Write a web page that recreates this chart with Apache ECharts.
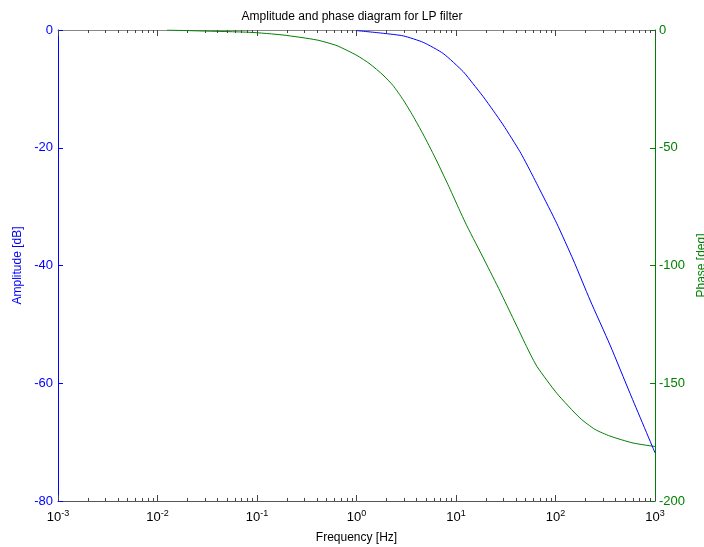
<!DOCTYPE html>
<html>
<head>
<meta charset="utf-8">
<script src="https://cdn.jsdelivr.net/npm/echarts@6/dist/echarts.min.js"></script>
<style>html,body{margin:0;padding:0;background:#fff;}#c{width:704px;height:547px;}</style>
</head>
<body>
<div id="c"></div>
<script>
// Data
var phaseFreq = [0.01246, 0.0267, 0.085, 0.1825, 0.4009, 0.6368, 1.0116, 1.367, 1.846, 2.327, 2.933, 3.696, 4.659, 6.151, 8.311, 10.47, 12.9, 19.56, 27.69, 38.27, 52.91, 65.18, 103.5, 176.3, 249.5, 353, 600.9, 1000];
var phaseDeg  = [0, -0.4, -0.98, -2.12, -4.25, -6.67, -10.83, -14.44, -19.11, -23.57, -29.51, -36.52, -44.16, -54.1, -65.69, -75.03, -83.27, -98.17, -110.91, -123.27, -135.63, -142.89, -154.35, -164.8, -169.6, -172.44, -175.37, -176.86];
var ampFreq = [1, 1.858, 2.951, 4.688, 7.447, 11.83, 14.79, 18.79, 23.71, 29.85, 43.95, 55.6, 69.82, 102.8, 151, 222.3, 353.2, 561, 1000];
var ampDb   = [-0.1, -0.56, -1.0, -2.1, -4.0, -7.08, -9.1, -11.33, -13.7, -16.14, -20.67, -23.9, -27.18, -32.83, -39.07, -45.86, -53.5, -61.71, -71.8];
var majorTicks = [0.001, 0.01, 0.1, 1, 10, 100, 1000];
var minorTicks = [];
[0.001, 0.01, 0.1, 1, 10, 100].forEach(function (d) {
  for (var k = 2; k <= 9; k++) minorTicks.push(+(d * k).toPrecision(3));
});

function pairs(xs, ys) { return xs.map(function (x, i) { return [x, ys[i]]; }); }

var FONT = 'Liberation Sans, Arial, sans-serif';
function xAx(pos, ticks, len, extra) {
  var a = {
    type: 'log', logBase: 10, min: 0.001, max: 1000, position: pos,
    axisLine: { show: false, onZero: false },
    axisTick: { show: true, inside: true, length: len, customValues: ticks, lineStyle: { color: '#444', width: 1 } },
    axisLabel: { show: false },
    splitLine: { show: false }, minorTick: { show: false }
  };
  for (var k in extra) a[k] = extra[k];
  return a;
}

var chart = echarts.init(document.getElementById('c'));
chart.setOption({
  animation: false,
  backgroundColor: '#fff',
  title: {
    text: 'Amplitude and phase diagram for LP filter', left: 'center', top: 6,
    textStyle: { fontFamily: FONT, fontSize: 12, fontWeight: 'normal', color: '#000' }
  },
  grid: { left: 58, right: 49, top: 30, bottom: 46, outerBoundsMode: 'none', containLabel: false },
  xAxis: [
    xAx('bottom', majorTicks, 6, {
      axisLine: { show: true, onZero: false, lineStyle: { color: '#555', width: 1 } },
      axisLabel: {
        show: true, customValues: majorTicks, margin: 8, color: '#000',
        fontFamily: FONT, fontSize: 13,
        formatter: function (v) {
          var e = Math.round(Math.log(v) / Math.LN10);
          return '10{s|' + e + '}';
        },
        rich: { s: { fontSize: 9, fontFamily: FONT, color: '#000', verticalAlign: 'top', padding: [0, 0, 8, 0] } }
      },
      name: 'Frequency [Hz]', nameLocation: 'middle', nameGap: 31,
      nameTextStyle: { fontFamily: FONT, fontSize: 12, color: '#000' }
    }),
    xAx('bottom', minorTicks, 3, {}),
    xAx('top', majorTicks, 6, { axisLine: { show: true, onZero: false, lineStyle: { color: '#888', width: 1 } } }),
    xAx('top', minorTicks, 3, {})
  ],
  yAxis: [
    {
      type: 'value', min: -80, max: 0, interval: 20, position: 'left',
      axisLine: { show: true, onZero: false, lineStyle: { color: '#0000ff', width: 1 } },
      axisTick: { show: true, inside: true, length: 5, lineStyle: { color: '#0000ff' } },
      axisLabel: { color: '#0000ff', fontFamily: FONT, fontSize: 13, margin: 5 },
      splitLine: { show: false },
      name: 'Amplitude [dB]', nameLocation: 'middle', nameGap: 33, nameRotate: 90,
      nameTextStyle: { color: '#0000ff', fontFamily: FONT, fontSize: 12 }
    },
    {
      type: 'value', min: -200, max: 0, interval: 50, position: 'right',
      axisLine: { show: true, onZero: false, lineStyle: { color: '#008000', width: 1 } },
      axisTick: { show: true, inside: true, length: 5, lineStyle: { color: '#008000' } },
      axisLabel: { color: '#008000', fontFamily: FONT, fontSize: 13, margin: 4 },
      splitLine: { show: false },
      name: 'Phase [deg]', nameLocation: 'middle', nameGap: 38, nameRotate: 90,
      nameTextStyle: { color: '#008000', fontFamily: FONT, fontSize: 12 }
    }
  ],
  series: [
    {
      type: 'line', xAxisIndex: 0, yAxisIndex: 1, data: pairs(phaseFreq, phaseDeg),
      showSymbol: false, smooth: 0.2, lineStyle: { color: '#008000', width: 1 }, z: 2
    },
    {
      type: 'line', xAxisIndex: 0, yAxisIndex: 0, data: pairs(ampFreq, ampDb),
      showSymbol: false, smooth: 0.2, lineStyle: { color: '#0000ff', width: 1 }, z: 3
    }
  ]
});
</script>
</body>
</html>
